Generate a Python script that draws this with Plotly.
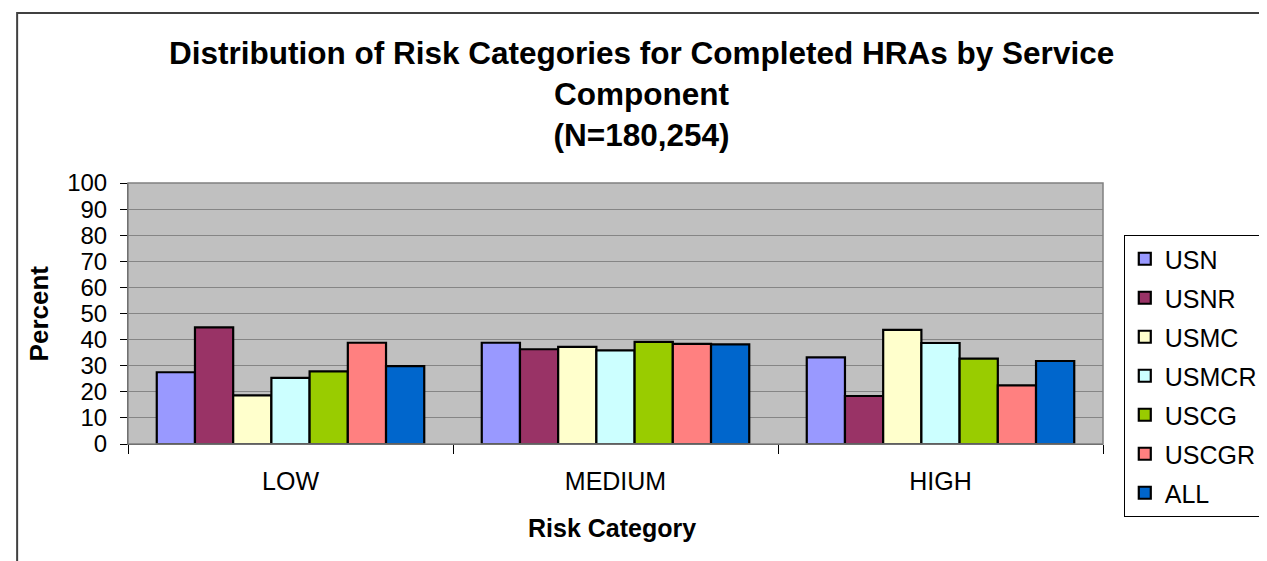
import plotly.graph_objects as go

categories = ["LOW", "MEDIUM", "HIGH"]
series_names = ["USN", "USNR", "USMC", "USMCR", "USCG", "USCGR", "ALL"]
usn = [27.5, 38.8, 33.2]
usnr = [44.7, 36.3, 18.4]
usmc = [18.6, 37.2, 43.7]
usmcr = [25.3, 35.9, 38.7]
uscg = [27.8, 39.1, 32.7]
uscgr = [38.8, 38.4, 22.5]
all_ = [29.8, 38.2, 31.8]
series_values = [usn, usnr, usmc, usmcr, uscg, uscgr, all_]
colors = ["#9999FF", "#993366", "#FFFFCC", "#CCFFFF", "#99CC00", "#FF8080", "#0066CC"]
y_ticks = [0, 10, 20, 30, 40, 50, 60, 70, 80, 90, 100]

FONT = "Liberation Sans, Arial, sans-serif"

fig = go.Figure()
for name, vals, col in zip(series_names, series_values, colors):
    fig.add_trace(go.Bar(
        x=categories, y=vals, name=name, legendgroup=name,
        marker=dict(color=col, line=dict(color="black", width=2.2)),
    ))

W, H = 1267, 561
L, R, T, B = 120, 162, 175, 125
pw, ph = W - L - R, H - T - B

def px_x(x):
    return (x - L) / pw

def px_y(y):
    return (H - B - y) / ph

fig.update_layout(
    width=W, height=H,
    margin=dict(l=L, r=R, t=T, b=B, pad=0),
    paper_bgcolor="white",
    plot_bgcolor="#C0C0C0",
    barmode="group",
    bargap=0.177,
    bargroupgap=0,
    font=dict(family=FONT, color="black", size=24),
    showlegend=True,
    legend=dict(
        x=px_x(1126), y=px_y(227), xanchor="left", yanchor="top",
        bordercolor="black", borderwidth=1, bgcolor="white",
        font=dict(family=FONT, size=25, color="black"),
        traceorder="grouped", tracegroupgap=3.5, itemwidth=30,
        maxheight=500,
    ),
    xaxis=dict(
        showgrid=False, tickson="boundaries", ticks="outside", ticklen=9,
        tickcolor="black", tickwidth=1,
        showline=True, linecolor="#404040", linewidth=1,
        tickfont=dict(family=FONT, size=25), ticklabelstandoff=15,
        fixedrange=True,
    ),
    yaxis=dict(
        range=[0, 100], tickvals=y_ticks, ticktext=[str(v) for v in y_ticks],
        showgrid=True, gridcolor="#858585", gridwidth=1,
        ticks="outside", ticklen=7, tickcolor="black", tickwidth=1,
        showline=True, linecolor="#404040", linewidth=1,
        tickfont=dict(family=FONT, size=24), zeroline=False,
        ticklabelstandoff=8,
        fixedrange=True,
    ),
    annotations=[
        dict(text="<b>Distribution of Risk Categories for Completed HRAs by Service<br>Component<br>(N=180,254)</b>",
             x=px_x(639), y=px_y(86), xref="paper", yref="paper",
             xanchor="center", yanchor="middle", showarrow=False,
             font=dict(family=FONT, size=31.5, color="black"), align="center"),
        dict(text="<b>Percent</b>", x=px_x(30), y=0.5, xref="paper", yref="paper",
             xanchor="center", yanchor="middle", showarrow=False, textangle=-90,
             font=dict(family=FONT, size=26, color="black")),
        dict(text="<b>Risk Category</b>", x=px_x(609), y=px_y(520), xref="paper", yref="paper",
             xanchor="center", yanchor="middle", showarrow=False,
             font=dict(family=FONT, size=25, color="black")),
    ],
    shapes=[
        dict(type="rect", xref="paper", yref="paper", x0=0, x1=1, y0=0, y1=1,
             line=dict(color="#808080", width=1.5), layer="above"),
        dict(type="path", xref="paper", yref="paper",
             path=f"M {px_x(8)} {px_y(565)} L {px_x(8)} {px_y(5)} L {px_x(1270)} {px_y(5)}",
             line=dict(color="#404040", width=2)),
    ],
)

fig.write_html("out.html", config={"displayModeBar": False})
